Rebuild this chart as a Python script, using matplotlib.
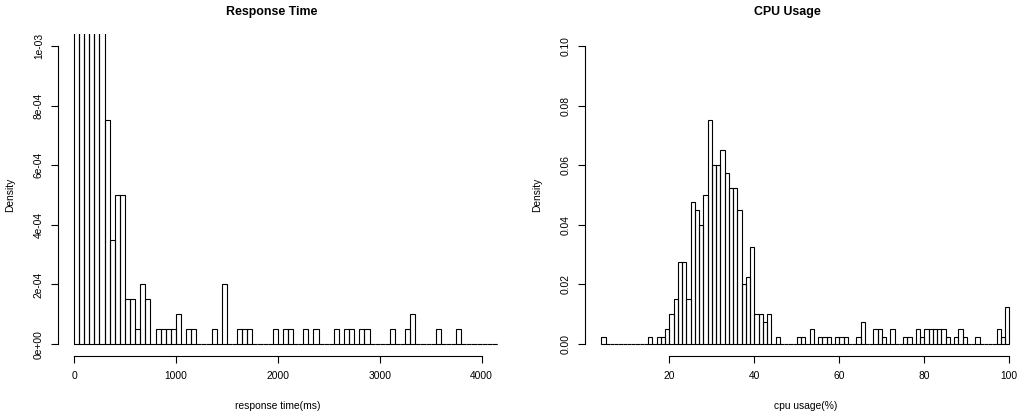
import numpy as np
import matplotlib
matplotlib.use("Agg")
import matplotlib.pyplot as plt

plt.rcParams['font.family'] = ['Liberation Sans', 'DejaVu Sans']

# ---------------- data ----------------
n_obs = 400

# Response time histogram: bins of 50 ms starting at 0
resp_bin_width = 50
resp_counts = [30, 62, 70, 60, 50, 40,            # 0-300 (clipped at top)
               15, 7, 10, 10, 3, 3, 1, 4, 3, 0,   # 300-800
               1, 1, 1, 1, 2, 0, 1, 1, 0, 0,      # 800-1300
               0, 1, 0, 4, 0, 0, 1, 1, 1, 0,      # 1300-1800
               0, 0, 0, 1, 0, 1, 1, 0, 0, 1,      # 1800-2300
               0, 1, 0, 0, 0, 1, 0, 1, 1, 0,      # 2300-2800
               1, 1, 0, 0, 0, 0, 1, 0, 0, 1,      # 2800-3300
               2, 0, 0, 0, 0, 1, 0, 0, 0, 1,      # 3300-3800
               0, 0, 0, 0, 0, 0, 0, 0]            # 3800-4200
resp_xticks = [0, 1000, 2000, 3000, 4000]
resp_yticks = [0, 2e-4, 4e-4, 6e-4, 8e-4, 1e-3]
resp_ylabels = ["0e+00", "2e-04", "4e-04", "6e-04", "8e-04", "1e-03"]

# CPU usage histogram: bins of 1 % starting at 4
cpu_start = 4
cpu_bin_width = 1
cpu_counts = [1, 0, 0, 0, 0, 0, 0, 0, 0, 0,        # 4-13
              0, 1, 0, 1, 1, 2, 4, 6, 11, 11,      # 14-23
              6, 19, 18, 16, 20, 30, 24, 24, 26, 23,  # 24-33
              21, 21, 18, 8, 9, 13, 4, 4, 3, 4,    # 34-43
              0, 1, 0, 0, 0, 0, 1, 1, 0, 2,        # 44-53
              0, 1, 1, 1, 0, 1, 1, 1, 0, 0,        # 54-63
              1, 3, 0, 0, 2, 2, 1, 0, 2, 0,        # 64-73
              0, 1, 1, 0, 2, 1, 2, 2, 2, 2,        # 74-83
              2, 1, 0, 1, 2, 1, 0, 0, 1, 0,        # 84-93
              0, 0, 0, 2, 1, 5]                    # 94-99
cpu_xticks = [20, 40, 60, 80, 100]
cpu_yticks = [0.0, 0.02, 0.04, 0.06, 0.08, 0.10]
cpu_ylabels = ["0.00", "0.02", "0.04", "0.06", "0.08", "0.10"]

# ---------------- layout ----------------
W, H = 1024, 413
fig = plt.figure(figsize=(W / 100, H / 100), dpi=100)
fig.patch.set_facecolor('white')


def add_ax(x0, x1, y0, y1):
    return fig.add_axes([x0 / W, 1 - y1 / H, (x1 - x0) / W, (y1 - y0) / H])


base_fs = 7.4
title_fs = 8.9
lw = 0.8


def style(ax, xticks, yticks, ylabels, title, xlabel, title_x):
    for s in ['top', 'right']:
        ax.spines[s].set_visible(False)
    for s in ['left', 'bottom']:
        ax.spines[s].set_linewidth(lw)
        ax.spines[s].set_color('black')
    ax.spines['bottom'].set_bounds(xticks[0], xticks[-1])
    ax.spines['left'].set_bounds(yticks[0], yticks[-1])
    ax.set_xticks(xticks)
    ax.set_xticklabels([str(t) for t in xticks])
    ax.set_yticks(yticks)
    ax.set_yticklabels(ylabels, rotation=90, va='center')
    ax.tick_params(axis='both', direction='out', length=5, width=lw,
                   labelsize=base_fs, colors='black')
    ax.tick_params(axis='x', pad=6)
    ax.tick_params(axis='y', pad=5)
    ax.set_facecolor('none')
    ax.set_title(title, fontsize=title_fs, fontweight='bold', pad=14, x=title_x)
    ax.set_xlabel(xlabel, fontsize=base_fs)
    ax.xaxis.set_label_coords(0.5, -0.14)
    ax.set_ylabel("Density", fontsize=base_fs)
    ax.yaxis.set_label_coords(-0.097, 0.5)


# Left: Response Time
ax1 = add_ax(57.7, 497.9, 34, 356)
resp_edges = np.arange(len(resp_counts)) * resp_bin_width
resp_density = np.array(resp_counts) / (n_obs * resp_bin_width)
ax1.bar(resp_edges, resp_density, width=resp_bin_width, align='edge',
        fill=False, edgecolor='black', linewidth=lw)
ax1.set_xlim(-160, 4160)
ax1.set_ylim(-4e-5, 1.04e-3)
style(ax1, resp_xticks, resp_yticks, resp_ylabels, "Response Time",
      "response time(ms)", 0.485)

# Right: CPU Usage
ax2 = add_ax(585, 1025.6, 34, 356)
cpu_edges = cpu_start + np.arange(len(cpu_counts)) * cpu_bin_width
cpu_density = np.array(cpu_counts) / (n_obs * cpu_bin_width)
ax2.bar(cpu_edges, cpu_density, width=cpu_bin_width, align='edge',
        fill=False, edgecolor='black', linewidth=lw)
ax2.set_xlim(0.16, 103.84)
ax2.set_ylim(-0.004, 0.104)
style(ax2, cpu_xticks, cpu_yticks, cpu_ylabels, "CPU Usage",
      "cpu usage(%)", 0.46)

fig.savefig("out.png", dpi=100, facecolor='white')
